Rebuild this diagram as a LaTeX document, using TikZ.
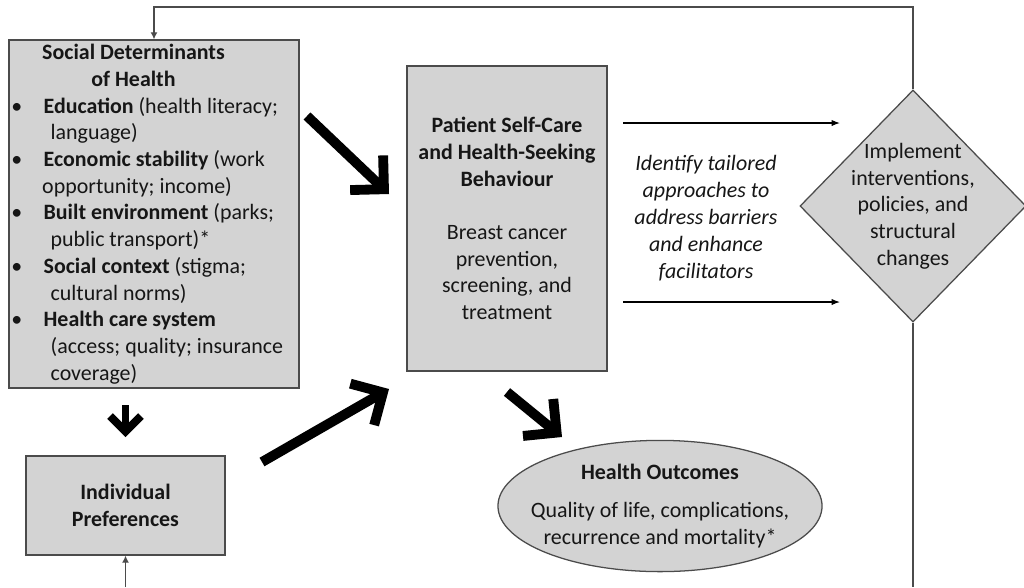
\documentclass[tikz,border=0pt]{standalone}
\usepackage{fontspec}
\setmainfont{Carlito}
\usetikzlibrary{shapes.geometric,arrows.meta}

\definecolor{boxfill}{RGB}{211,211,211}
\definecolor{boxline}{RGB}{75,75,75}
\definecolor{inktext}{RGB}{22,22,22}

\newcommand\bul[1]{\makebox[23pt][l]{\textbullet}#1}

\tikzset{
  greybox/.style={draw=boxline, fill=boxfill, line width=0.9pt, inner sep=0pt},
  flowarr/.style={-{Latex[length=6pt,width=4.5pt]}, line width=0.8pt},
  loopline/.style={draw=boxline, line width=0.9pt},
  bigarr/.style={line width=7pt, -{Straight Barb[length=17pt,width=34pt]}},
  smallarr/.style={line width=5.6pt, -{Straight Barb[length=11pt,width=22pt]}},
}

\begin{document}
\begin{tikzpicture}[x=0.025cm, y=-0.025cm, text=inktext,
  font=\fontsize{15.6pt}{19pt}\selectfont]
  \useasboundingbox (0,0) rectangle (1024,587);

  % the boxes
  \node[greybox, minimum width=7.25cm, minimum height=8.7cm] (sdoh) at (154,214) {};
  \node[greybox, minimum width=5cm, minimum height=7.625cm, align=center] (patient) at (507,218.5)
    {\textbf{Patient Self-Care}\\ \textbf{and Health-Seeking}\\ \textbf{Behaviour}\\[19pt]
     Breast cancer\\ prevention,\\ screening, and\\ treatment};
  \node[greybox, minimum width=4.975cm, minimum height=2.475cm, align=center] (prefs) at (125.5,505.5)
    {\textbf{Individual}\\ \textbf{Preferences}};
  \node[greybox, ellipse, minimum width=8.1cm, minimum height=3.28cm,
    label={[align=center]center:\textbf{Health Outcomes}\\[8pt] Quality of life, complications,\\ recurrence and mortality*}] (outcomes) at (660,506) {};
  \node[greybox, diamond, minimum width=5.65cm, minimum height=5.8cm,
    label={[align=center]center:Implement\\ interventions,\\ policies, and\\ structural\\ changes}] (impl) at (913,206) {};

  % text of the determinants box
  \node[anchor=north west, align=left, inner sep=0pt] (sdohtext) at (11,44) {%
    \hspace*{22pt}\textbf{Social Determinants}\\
    \hspace*{57pt}\textbf{of Health}\\
    \bul{\textbf{Education} (health literacy;}\\
    \hspace*{28pt}language)\\
    \bul{\textbf{Economic stability} (work}\\
    \hspace*{22pt}opportunity; income)\\
    \bul{\textbf{Built environment} (parks;}\\
    \hspace*{28pt}public transport)*\\
    \bul{\textbf{Social context} (stigma;}\\
    \hspace*{28pt}cultural norms)\\
    \bul{\textbf{Health care system}}\\
    \hspace*{28pt}(access; quality; insurance\\
    \hspace*{28pt}coverage)};

  \node[align=center, font=\fontsize{15.6pt}{19.3pt}\selectfont\itshape] (tailor) at (706,218)
    {Identify tailored\\ approaches to\\ address barriers\\ and enhance\\ facilitators};

  % thin arrows towards the diamond
  \coordinate (upA) at (623,123);
  \coordinate (upB) at (840,123);
  \coordinate (loA) at (623,302);
  \coordinate (loB) at (840,302);
  \draw[flowarr] (upA) -- (upB);
  \draw[flowarr] (loA) -- (loB);

  % thick arrows
  \coordinate (s1) at (307,116);
  \coordinate (t1) at (389,194);
  \coordinate (s2) at (262,462);
  \coordinate (t2) at (389,389);
  \coordinate (s3) at (125.5,405);
  \coordinate (t3) at (125.5,437);
  \coordinate (s4) at (507,392);
  \coordinate (t4) at (562,437);
  \draw[bigarr] (s1) -- (t1);
  \draw[bigarr] (s2) -- (t2);
  \draw[smallarr] (s3) -- (t3);
  \draw[bigarr] (s4) -- (t4);

  % feedback loop
  \coordinate (topright) at (913,7);
  \coordinate (botright) at (913,587);
  \coordinate (botleft) at (125.5,587);
  \draw[loopline, -{Latex[length=5pt,width=5pt]}] (impl.north) -- (topright) -| (sdoh.north);
  \draw[loopline] (impl.south) -- (botright);
  \draw[loopline, -{Latex[length=5pt,width=5pt]}] (botleft) -- (prefs.south);
\end{tikzpicture}
\end{document}
